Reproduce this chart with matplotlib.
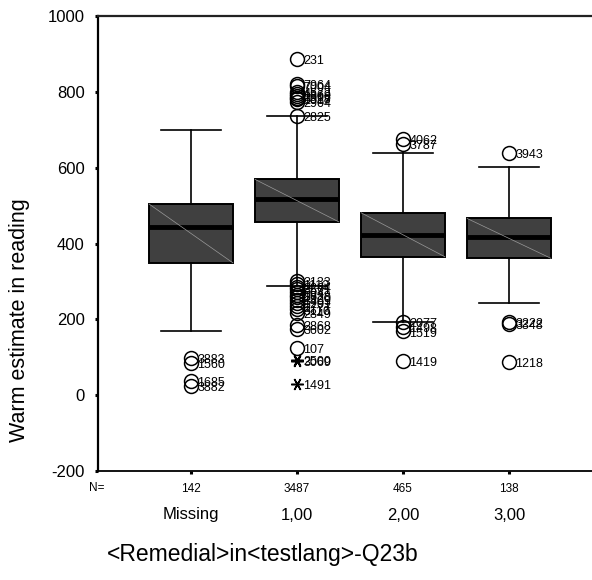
import numpy as np
import matplotlib
matplotlib.use('Agg')
import matplotlib.pyplot as plt
from matplotlib import transforms

plt.rcParams['font.family'] = ['Liberation Sans', 'DejaVu Sans']

# data
kategori = ['Missing', '1,00', '2,00', '3,00']
jumlahN = [142, 3487, 465, 138]
whiskerBawah = [170, 289, 194, 244]
kuartil1 = [349, 457, 365, 361]
median = [444, 517, 422, 418]
kuartil3 = [504, 569, 481, 466]
whiskerAtas = [699, 737, 638, 602]

# outliers (circles): value, case id
outlierMissing = [(97, '3883'), (85, '1560'), (37, '1685'), (24, '3882')]
outlier100 = [(886, '231'), (820, '7964'), (816, '7004'), (800, '4573'), (795, '1869'),
              (790, '2906'), (785, '3328'), (780, '1017'), (774, '2904'), (737, '2825'),
              (300, '3133'), (293, '1112'), (286, '2264'), (279, '3571'), (272, '604'),
              (265, '1838'), (258, '2920'), (250, '3409'), (242, '1201'), (234, '2777'),
              (226, '3110'), (218, '2849'), (186, '2868'), (174, '3602'), (125, '107')]
outlier200 = [(675, '4062'), (662, '3787'), (193, '2077'), (181, '1498'), (168, '1519'), (90, '1419')]
outlier300 = [(639, '3943'), (193, '3222'), (188, '3348'), (88, '1218')]
outlierSemua = [outlierMissing, outlier100, outlier200, outlier300]

# extremes (asterisks): value, case id
ekstrem100 = [(94, '2500'), (91, '3069'), (29, '1491')]
ekstremSemua = [[], ekstrem100, [], []]

sumbuY = 'Warm estimate in reading'
sumbuX = '<Remedial>in<testlang>-Q23b'
tickerSumbuY = np.arange(-200, 1001, 200)

fig = plt.figure(figsize=(5.92, 5.8), dpi=100)
ax = fig.add_axes([98 / 592, 1 - 471 / 580, 1 - 98 / 592, 455 / 580])

posisi = np.arange(1, len(kategori) + 1)
statistik = []
for i in range(len(kategori)):
    statistik.append(dict(whislo=whiskerBawah[i], q1=kuartil1[i], med=median[i],
                          q3=kuartil3[i], whishi=whiskerAtas[i], fliers=[]))

lebarBox = 0.79
ax.bxp(statistik, positions=posisi, widths=lebarBox, patch_artist=True,
       showfliers=False, capwidths=0.56,
       boxprops=dict(facecolor='#404040', edgecolor='black', linewidth=1.4),
       medianprops=dict(color='black', linewidth=3.5),
       whiskerprops=dict(color='black', linewidth=1.2),
       capprops=dict(color='black', linewidth=1.2))

# thin diagonal line inside each box
for i, p in enumerate(posisi):
    ax.plot([p - lebarBox / 2, p + lebarBox / 2], [kuartil3[i], kuartil1[i]],
            color='#9a9a9a', linewidth=0.5, zorder=3)

# outliers and extremes with case labels
for i, p in enumerate(posisi):
    for v, lab in outlierSemua[i]:
        ax.plot(p, v, marker='o', markersize=10, markerfacecolor='none',
                markeredgecolor='black', markeredgewidth=1.1, zorder=4)
        ax.annotate(lab, (p, v), xytext=(4.5, -1.5), textcoords='offset points',
                    ha='left', va='center', fontsize=9)
    for v, lab in ekstremSemua[i]:
        ax.plot(p, v, marker=(6, 2, 90), markersize=9, markeredgecolor='black',
                markeredgewidth=1.1, zorder=4)
        ax.annotate(lab, (p, v), xytext=(4.5, -1.5), textcoords='offset points',
                    ha='left', va='center', fontsize=9)

ax.set_xlim((98 - 85) / 106, (592 - 85) / 106)
ax.set_ylim(-200, 1000)
ax.set_yticks(tickerSumbuY)
ax.set_yticklabels([str(t) for t in tickerSumbuY], fontsize=12)
ax.set_xticks(posisi)
ax.set_xticklabels([str(n) for n in jumlahN], fontsize=8.5)
ax.tick_params(axis='y', length=2.5, width=2.2, pad=7)
ax.tick_params(axis='x', length=2.5, width=2.2, pad=6)

ax.spines['right'].set_visible(False)
ax.spines['left'].set_linewidth(1.6)
ax.spines['top'].set_linewidth(1.6)
ax.spines['top'].set_color('#222222')
ax.spines['bottom'].set_linewidth(1.3)

# N= and category names below the axis
trans = transforms.blended_transform_factory(ax.transData, ax.transAxes)
ax.text(-0.002, -17 / 455, 'N=', transform=ax.transAxes, ha='center', va='center', fontsize=8.5)
for i, p in enumerate(posisi):
    ax.text(p, -44 / 455, kategori[i], transform=trans, ha='center', va='center', fontsize=12)

fig.text(263 / 592, 1 - 555 / 580, sumbuX, ha='center', va='center', fontsize=16.5)
fig.text(20 / 592, 1 - 320 / 580, sumbuY, ha='center', va='center', rotation=90, fontsize=15.5)

plt.savefig('out.png', dpi=100)
plt.close(fig)
